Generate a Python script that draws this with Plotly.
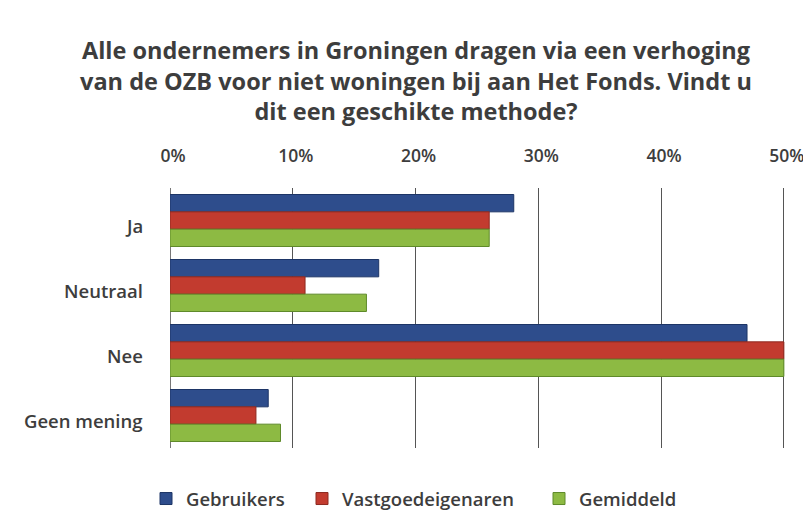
import plotly.graph_objects as go

categories = ["Ja", "Neutraal", "Nee", "Geen mening"]
gebruikers = [28, 17, 47, 8]
vastgoed = [26, 11, 50, 7]
gemiddeld = [26, 16, 50, 9]
tick_vals = [0, 10, 20, 30, 40, 50]
tick_text = ["0%", "10%", "20%", "30%", "40%", "50%"]

W, H = 803, 502
series = [
    ("Gebruikers", gebruikers, "#2e4d8c", "#1d3566", "legend", 138),
    ("Vastgoedeigenaren", vastgoed, "#c23b2f", "#8e2a21", "legend2", 294),
    ("Gemiddeld", gemiddeld, "#8dba43", "#5f8a2a", "legend3", 531),
]
txt = "#3d3d3d"

fig = go.Figure()
legends = {}
for name, vals, col, line, lg, lx in series:
    fig.add_trace(go.Bar(
        y=categories, x=vals, name=name, orientation="h",
        marker=dict(color=col, line=dict(color=line, width=1)),
        legend=lg, showlegend=True,
    ))
    legends[lg] = dict(
        orientation="h", x=lx / W, xref="container", xanchor="left",
        y=1 - 472 / H, yref="container", yanchor="top",
        font=dict(size=18.5, color=txt, weight=600), itemwidth=30,
        bgcolor="rgba(0,0,0,0)", visible=True,
    )

for cat in categories:
    fig.add_annotation(
        x=0, xref="paper", y=cat, yref="y", text=cat, showarrow=False,
        xanchor="right", yanchor="middle", xshift=-25, yshift=-5,
        font=dict(size=18.5, color=txt, weight=600),
    )

fig.update_layout(
    width=W, height=H, showlegend=True,
    paper_bgcolor="white", plot_bgcolor="white",
    margin=dict(l=162, r=21, t=180, b=62),
    barmode="group", bargap=0.2, bargroupgap=0,
    font=dict(family="Open Sans", color=txt, size=16, weight=600),
    title=dict(
        text="<b>Alle ondernemers in Groningen dragen via een verhoging<br>van de OZB voor niet woningen bij aan Het Fonds. Vindt u<br>dit een geschikte methode?</b>",
        x=408 / W, xanchor="center", xref="container", yref="container", y=1 - 51 / H, yanchor="top",
        font=dict(family="Open Sans", size=23.5, color=txt),
    ),
    xaxis=dict(
        side="top", range=[0, 50.5], tickvals=tick_vals, ticktext=tick_text,
        showgrid=True, gridcolor="#555555", gridwidth=1,
        zeroline=True, zerolinecolor="#777777", zerolinewidth=1,
        tickfont=dict(size=17.5, color=txt, weight=600), ticklabelstandoff=22,
        ticklabelshift=3, ticklabeloverflow="allow", automargin=False, fixedrange=True,
    ),
    yaxis=dict(
        autorange="reversed", showgrid=False, ticks="", showticklabels=False,
        automargin=False,
    ),
    **legends,
)

fig.write_html("out.html")
